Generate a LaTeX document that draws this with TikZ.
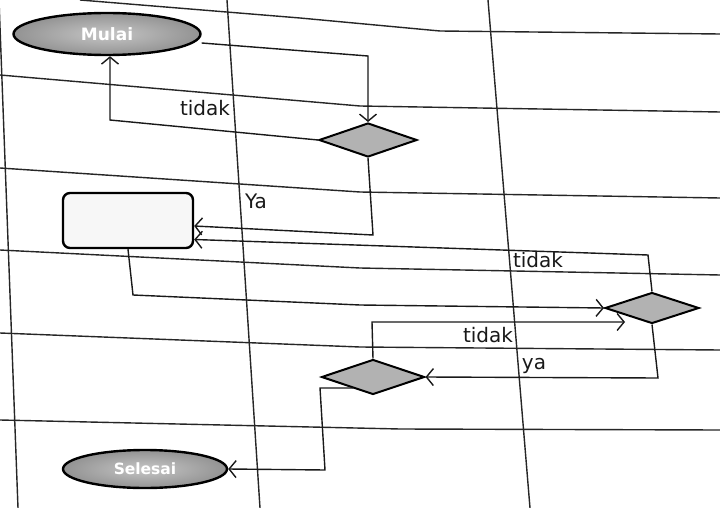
\documentclass[tikz,border=0pt]{standalone}
\usepackage{fontspec}
\setmainfont{DejaVu Sans}
\usetikzlibrary{shapes.geometric,arrows.meta}
\tikzset{
  lane/.style={draw=black!85, line width=1.4pt},
  conn/.style={draw=black!90, line width=1.4pt, -{Straight Barb[length=7pt,width=17pt]}},
  term/.style={ellipse, draw=black, line width=2.4pt, inner sep=0pt,
    inner color=gray!45, outer color=gray!85, text=white,
    font=\fontsize{17}{20}\selectfont\bfseries},
  decision/.style={diamond, draw=black, line width=2pt, fill=gray!60, inner sep=0pt},
  activity/.style={draw=black, line width=2.4pt, rounded corners=7pt, fill=gray!6},
  lbl/.style={inner sep=0pt, font=\fontsize{20}{24}\selectfont, text=black!90}
}
\begin{document}
\begin{tikzpicture}[x=1pt,y=-1pt]
\useasboundingbox (0,0) rectangle (720,508);
\fill[white] (0,0) rectangle (720,508);
% swimlane lines
\draw[lane] (80,0) -- (300,18) -- (440,31) -- (720,34);
\draw[lane] (0,75) -- (360,106) -- (720,112);
\draw[lane] (0,168) -- (360,192) -- (720,198);
\draw[lane] (0,250) -- (360,268) -- (720,275);
\draw[lane] (0,333) -- (360,347) -- (720,350);
\draw[lane] (0,420) -- (400,429) -- (720,430);
\draw[lane] (-1,0) -- (18,508);
\draw[lane] (227,0) -- (260,508);
\draw[lane] (488,0) -- (530,508);
% shapes
\node[term, minimum width=187pt, minimum height=42pt] (mulai) at (107,34) {Mulai};
\node[term, minimum width=164pt, minimum height=38pt, font=\fontsize{15.5}{18}\selectfont\bfseries] (selesai) at (145,469) {Selesai};
\node[decision, minimum width=98pt, minimum height=34pt] (d1) at (368,140) {};
\node[decision, minimum width=94pt, minimum height=31pt] (d2) at (652,308) {};
\node[decision, minimum width=103pt, minimum height=35pt] (d3) at (373,377) {};
\node[activity, minimum width=130pt, minimum height=55pt] (box) at (128,220.5) {};
% connector bend points
\coordinate (c1) at (368,56);
\coordinate (c2) at (110,120);
\coordinate (c3) at (373,235);
\coordinate (c4) at (648,255);
\coordinate (c5) at (133,295);
\coordinate (c5b) at (360,305);
\coordinate (c6) at (372,322);
\coordinate (c6e) at (625,322);
\coordinate (c7) at (658,378);
\coordinate (c8) at (320,388);
\coordinate (c8b) at (325,470);
% connectors
\draw[conn] ([yshift=-9pt]mulai.east) -- (c1) -- (d1.north);
\draw[conn] (d1.west) -- (c2) -- (mulai.south -| c2);
\draw[conn] (d1.south) -- (c3) -- ([yshift=-5.5pt]box.east);
\draw[conn] (d2.north) -- (c4) -- ([yshift=-19pt]box.east);
\draw[conn] (box.south) -- (c5) -- (c5b) -- (d2.west);
\draw[conn] (d3.north) -- (c6) -- (c6e);
\draw[conn] (d2.south) -- (c7) -- (d3.east);
\draw[conn] ([xshift=-20pt,yshift=-11pt]d3.center) -- (c8) -- (c8b) -- (selesai.east);
% labels
\node[lbl] (t1) at (205,108) {tidak};
\node[lbl] (t2) at (256,201) {Ya};
\node[lbl] (t3) at (538,260) {tidak};
\node[lbl] (t4) at (488,335) {tidak};
\node[lbl] (t5) at (534,366) {ya};
\end{tikzpicture}
\end{document}
